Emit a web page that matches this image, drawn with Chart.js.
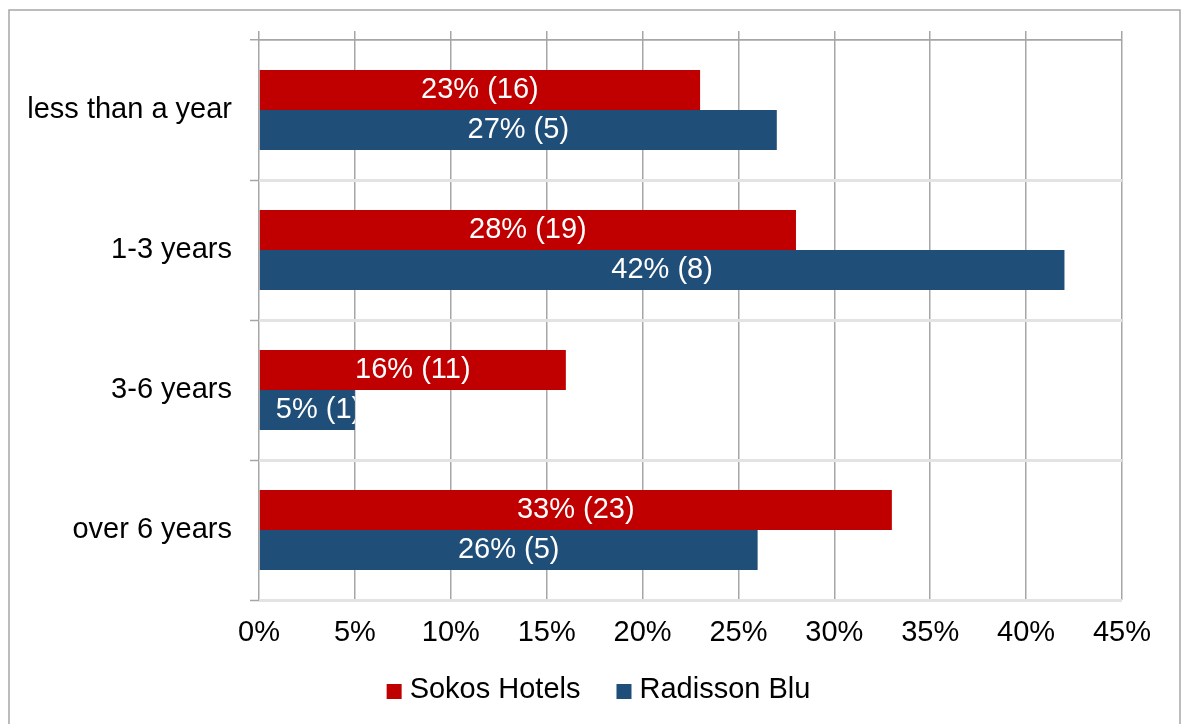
<!DOCTYPE html>
<html>
<head>
<meta charset="utf-8">
<script src="https://cdn.jsdelivr.net/npm/chart.js@4/dist/chart.umd.min.js"></script>
<style>
  html, body { margin: 0; padding: 0; background: #fff; }
</style>
</head>
<body>
<canvas id="chart" width="1187" height="724"></canvas>
<script>
  const categories = ['less than a year', '1-3 years', '3-6 years', 'over 6 years'];
  const seriesNames = ['Sokos Hotels', 'Radisson Blu'];
  const sokosPct = [23, 28, 16, 33];
  const sokosCount = [16, 19, 11, 23];
  const radissonPct = [27, 42, 5, 26];
  const radissonCount = [5, 8, 1, 5];
  const xTicks = [0, 5, 10, 15, 20, 25, 30, 35, 40, 45];

  const FAMILY = "'Liberation Sans', Arial, sans-serif";
  const FONT_SIZE = 29;
  const FONT = FONT_SIZE + 'px ' + FAMILY;
  const GRID_GRAY = '#a6a6a6';

  // outer frame around the whole chart (bottom edge runs off the picture)
  const frame = {
    id: 'frame',
    beforeDraw(chart) {
      const ctx = chart.ctx;
      ctx.save();
      ctx.strokeStyle = GRID_GRAY;
      ctx.lineWidth = 1.5;
      ctx.strokeRect(9, 10, 1171, 800);
      ctx.restore();
    },
  };

  // value labels inside the bars, clipped to the bar
  const barLabels = {
    id: 'barLabels',
    afterDatasetsDraw(chart) {
      const ctx = chart.ctx;
      chart.data.datasets.forEach((ds, di) => {
        const meta = chart.getDatasetMeta(di);
        meta.data.forEach((bar, i) => {
          const p = bar.getProps(['x', 'y', 'base', 'height'], true);
          const left = Math.min(p.x, p.base);
          const right = Math.max(p.x, p.base);
          const text = `${ds.data[i]}% (${ds.counts[i]})`;
          ctx.save();
          ctx.beginPath();
          ctx.rect(left, p.y - p.height / 2, right - left, p.height);
          ctx.clip();
          ctx.font = FONT;
          ctx.fillStyle = '#fff';
          ctx.textAlign = 'center';
          ctx.textBaseline = 'middle';
          const w = ctx.measureText(text).width;
          const cx = Math.max((left + right) / 2, left + 16 + w / 2);
          ctx.fillText(text, cx, p.y);
          ctx.restore();
        });
      });
    },
  };

  // legend drawn by hand so box/text spacing matches
  const legendRow = {
    id: 'legendRow',
    afterDraw(chart) {
      const ctx = chart.ctx;
      ctx.save();
      ctx.font = FONT;
      ctx.textBaseline = 'middle';
      ctx.textAlign = 'left';
      const items = chart.data.datasets.map((ds) => ({
        text: ds.label,
        color: ds.backgroundColor,
        w: ctx.measureText(ds.label).width,
      }));
      const box = 15, gap = 8, spacing = 36;
      const total = items.reduce((s, it) => s + box + gap + it.w, 0) + spacing * (items.length - 1);
      let x = 598.5 - total / 2;
      items.forEach((it) => {
        ctx.fillStyle = it.color;
        ctx.fillRect(x, 684, box, box);
        ctx.fillStyle = '#000';
        ctx.fillText(it.text, x + box + gap, 690);
        x += box + gap + it.w + spacing;
      });
      ctx.restore();
    },
  };

  const fixedTicks = (scale) => {
    scale.ticks = xTicks.map((v) => ({ value: v }));
  };

  new Chart(document.getElementById('chart').getContext('2d'), {
    type: 'bar',
    data: {
      labels: categories,
      datasets: [
        {
          label: seriesNames[0],
          data: sokosPct,
          counts: sokosCount,
          backgroundColor: '#C00000',
          categoryPercentage: 80 / 140,
          barPercentage: 1,
        },
        {
          label: seriesNames[1],
          data: radissonPct,
          counts: radissonCount,
          backgroundColor: '#1F4E79',
          categoryPercentage: 80 / 140,
          barPercentage: 1,
        },
      ],
    },
    options: {
      indexAxis: 'y',
      responsive: false,
      animation: false,
      layout: { padding: { left: 10, top: 31, right: 65, bottom: 64 } },
      plugins: {
        legend: { display: false },
        tooltip: { enabled: false },
      },
      scales: {
        x: {
          type: 'linear',
          position: 'bottom',
          min: 0,
          max: 45,
          afterBuildTicks: fixedTicks,
          ticks: {
            callback(v) { return v + '%'; },
            color: '#000',
            font: { family: FAMILY, size: FONT_SIZE },
            padding: 16,
            maxRotation: 0,
            autoSkip: false,
          },
          grid: { color: GRID_GRAY, lineWidth: 1.5, drawTicks: false },
          border: { display: false },
          afterFit(s) { s.height = 60; },
        },
        x2: {
          type: 'linear',
          position: 'top',
          min: 0,
          max: 45,
          afterBuildTicks: fixedTicks,
          ticks: { display: false },
          grid: {
            drawOnChartArea: false,
            drawTicks: true,
            tickLength: 9,
            tickColor: GRID_GRAY,
            lineWidth: 1.5,
          },
          border: { display: true, color: GRID_GRAY, width: 1.5 },
        },
        y: {
          type: 'category',
          position: 'left',
          ticks: {
            color: '#000',
            font: { family: FAMILY, size: FONT_SIZE },
            padding: 18,
          },
          grid: {
            offset: true,
            color(ctx) { return ctx.index === 0 ? GRID_GRAY : '#e3e3e3'; },
            lineWidth(ctx) { return ctx.index === 0 ? 1.5 : 3; },
            tickColor: GRID_GRAY,
            tickWidth: 1.5,
            tickLength: 9,
          },
          border: { display: false },
          afterFit(s) { s.width = 249; },
        },
      },
    },
    plugins: [frame, barLabels, legendRow],
  });
</script>
</body>
</html>
